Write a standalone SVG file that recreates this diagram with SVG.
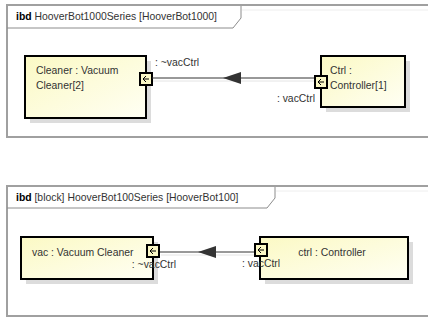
<svg xmlns="http://www.w3.org/2000/svg" width="428" height="320" viewBox="0 0 428 320">
  <defs>
    <linearGradient id="partFill" x1="0" y1="0" x2="1" y2="1">
      <stop offset="0" stop-color="#fbf9c4"/>
      <stop offset="1" stop-color="#fffff4"/>
    </linearGradient>
  </defs>
  <style>
    text { font-family: "Liberation Sans", Arial, sans-serif; font-size: 10.4px; fill: #333; }
    .b { font-weight: bold; fill: #000; }
    .frame { fill: #fff; stroke: #a0a0a0; stroke-width: 2; }
    .tab { fill: none; stroke: #8c8c8c; stroke-width: 1; }
    .shadow { fill: #dcdcdc; }
    .part { fill: url(#partFill); stroke: #000; stroke-width: 2; }
    .port { fill: #fbf8c6; stroke: #000; stroke-width: 2; }
    .pa { fill: none; stroke: #000; stroke-width: 1; }
    .conn { fill: none; stroke: #333; stroke-width: 1; }
    .connShadow { fill: none; stroke: #e4e4e4; stroke-width: 1; }
    .head { fill: #333; }
  </style>

  <!-- ibd frame: HooverBot1000Series -->
  <g id="frame1000">
    <rect class="frame" x="7" y="5" width="440" height="132"/>
    <path class="tab" d="M7,28 H233 L241,18 V6"/>
    <line x1="242" y1="10" x2="428" y2="10" stroke="#eeeeee"/>
    <text x="16" y="20"><tspan class="b">ibd</tspan> HooverBot1000Series [HooverBot1000]</text>
  </g>

  <!-- ibd frame: HooverBot100Series -->
  <g id="frame100">
    <rect class="frame" x="7" y="186" width="440" height="130"/>
    <path class="tab" d="M7,208 H267 L275,198 V187"/>
    <line x1="276" y1="191" x2="428" y2="191" stroke="#eeeeee"/>
    <text x="16" y="201"><tspan class="b">ibd</tspan> [block] HooverBot100Series [HooverBot100]</text>
  </g>

  <!-- part: Cleaner -->
  <g id="cleaner">
    <rect class="shadow" x="30" y="61" width="121" height="62"/>
    <rect class="part" x="25" y="56" width="121" height="62"/>
    <text x="36" y="74">Cleaner : Vacuum</text>
    <text x="36" y="89">Cleaner[2]</text>
    <g id="cleanerPort">
      <rect class="port" x="140" y="73" width="12" height="12"/>
      <path class="pa" d="M149,79 H143 M146,76 L143,79 L146,82"/>
    </g>
  </g>

  <!-- part: Ctrl -->
  <g id="ctrl1">
    <rect class="shadow" x="326" y="61" width="84" height="51"/>
    <rect class="part" x="321" y="56" width="84" height="51"/>
    <text x="330" y="74">Ctrl :</text>
    <text x="330" y="89">Controller[1]</text>
    <g id="ctrlPort1">
      <rect class="port" x="315" y="76" width="12" height="12"/>
      <path class="pa" d="M324,82 H318 M321,79 L318,82 L321,85"/>
    </g>
  </g>

  <!-- part: vac -->
  <g id="vac">
    <rect class="shadow" x="26" y="242" width="132" height="42"/>
    <rect class="part" x="21" y="237" width="132" height="42"/>
    <text x="32" y="256">vac : Vacuum Cleaner</text>
    <g id="vacPort">
      <rect class="port" x="147" y="245" width="12" height="12"/>
      <path class="pa" d="M156,251 H150 M153,248 L150,251 L153,254"/>
    </g>
  </g>

  <!-- part: ctrl -->
  <g id="ctrl2">
    <rect class="shadow" x="265" y="242" width="148" height="42"/>
    <rect class="part" x="260" y="237" width="148" height="42"/>
    <text x="332" y="256" text-anchor="middle">ctrl : Controller</text>
    <g id="ctrlPort2">
      <rect class="port" x="255" y="244" width="12" height="12"/>
      <path class="pa" d="M264,250 H258 M261,247 L258,250 L261,253"/>
    </g>
  </g>

  <!-- connectors with their end labels (drawn over the parts) -->
  <g id="connectors">
    <line class="connShadow" x1="153" y1="81" x2="314" y2="81"/>
    <line class="conn" x1="152" y1="78" x2="314" y2="78"/>
    <path class="head" d="M223,78 L241,72 L241,84 Z"/>
    <text x="155" y="66">: ~vacCtrl</text>
    <text x="315" y="102" text-anchor="end">: vacCtrl</text>

    <line class="connShadow" x1="161" y1="255" x2="254" y2="255"/>
    <line class="conn" x1="160" y1="252" x2="254" y2="252"/>
    <path class="head" d="M198,252 L216,246 L216,258 Z"/>
    <text x="176" y="268" text-anchor="end">: ~vacCtrl</text>
    <text x="242" y="267">: vacCtrl</text>
  </g>
</svg>
